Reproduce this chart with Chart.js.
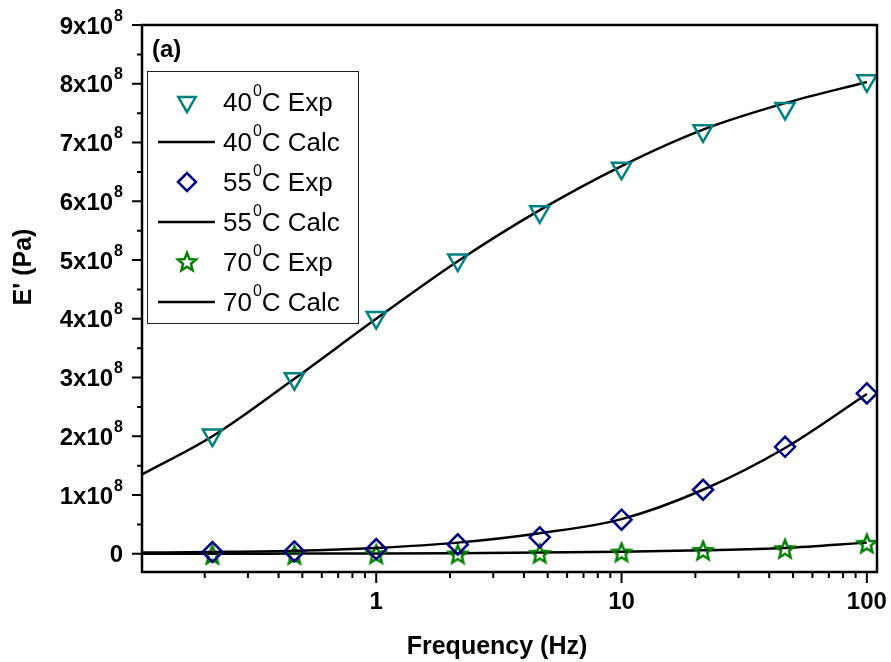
<!DOCTYPE html>
<html lang="en">
<head>
<meta charset="UTF-8">
<title>E' vs Frequency</title>
<script src="https://cdn.jsdelivr.net/npm/chart.js"></script>
<style>
  body { margin: 0; background: #fff; }
</style>
</head>
<body>
<canvas id="myChart" width="891" height="662"></canvas>
<script>
// measured frequencies (Hz)
const freq = [0.215, 0.464, 1, 2.15, 4.64, 10, 21.5, 46.4, 100];
const exp40 = [2.02e8, 2.98e8, 4.02e8, 5.0e8, 5.82e8, 6.56e8, 7.2e8, 7.58e8, 8.05e8];
const exp55 = [0.03e8, 0.04e8, 0.08e8, 0.16e8, 0.28e8, 0.58e8, 1.09e8, 1.82e8, 2.73e8];
const exp70 = [-0.02e8, -0.02e8, -0.01e8, -0.01e8, 0.0, 0.02e8, 0.05e8, 0.08e8, 0.17e8];

// calculated curves
const calcFreq = [0.111, 0.215, 0.464, 1, 2.15, 4.64, 10, 21.5, 46.4, 100];
const calc40 = [1.35e8, 2.0e8, 2.98e8, 4.0e8, 4.98e8, 5.85e8, 6.6e8, 7.22e8, 7.67e8, 8.03e8];
const calc55 = [0.02e8, 0.03e8, 0.05e8, 0.1e8, 0.19e8, 0.35e8, 0.59e8, 1.09e8, 1.8e8, 2.72e8];
const calc70 = [0.0, 0.0, 0.003e8, 0.005e8, 0.01e8, 0.02e8, 0.035e8, 0.06e8, 0.1e8, 0.19e8];

const temps = ['40', '55', '70'];
const yTicks = [0, 1e8, 2e8, 3e8, 4e8, 5e8, 6e8, 7e8, 8e8, 9e8];
const yMinor = [0.5e8, 1.5e8, 2.5e8, 3.5e8, 4.5e8, 5.5e8, 6.5e8, 7.5e8, 8.5e8];
const xTicks = [1, 10, 100];
const xMinor = [0.2, 0.3, 0.4, 0.5, 0.6, 0.7, 0.8, 0.9, 2, 3, 4, 5, 6, 7, 8, 9, 20, 30, 40, 50, 60, 70, 80, 90];

const teal = '#008080', navy = '#000080', green = '#008000';
const FONT = '"Liberation Sans", Arial, sans-serif';

// 5 point star outline, used as a point style
function makeStar(color) {
  const c = document.createElement('canvas');
  c.width = 24; c.height = 24;
  const g = c.getContext('2d');
  g.strokeStyle = color;
  g.lineWidth = 2.5;
  g.lineJoin = 'miter';
  g.beginPath();
  for (let i = 0; i < 10; i++) {
    const r = i % 2 === 0 ? 9.5 : 4.2;
    const a = -Math.PI / 2 + i * Math.PI / 5;
    const px = 12 + r * Math.cos(a), py = 12.5 + r * Math.sin(a);
    if (i === 0) g.moveTo(px, py); else g.lineTo(px, py);
  }
  g.closePath();
  g.stroke();
  return c;
}
const starImg = makeStar(green);

const pts = (xs, ys) => xs.map((x, i) => ({x: x, y: ys[i]}));

const expStyle = (color, style, rot) => ({
  showLine: false,
  pointStyle: style,
  rotation: rot,
  pointRadius: style === 'triangle' ? 11 : 10,
  pointBorderWidth: 2.5,
  pointBorderColor: color,
  pointBackgroundColor: 'rgba(0,0,0,0)',
  borderColor: color
});
const calcStyle = {
  showLine: true,
  pointRadius: 0,
  borderColor: '#000',
  borderWidth: 2.5,
  cubicInterpolationMode: 'monotone'
};

const datasets = [
  Object.assign({label: '40 Exp', data: pts(freq, exp40)}, expStyle(teal, 'triangle', 180)),
  Object.assign({label: '40 Calc', data: pts(calcFreq, calc40)}, calcStyle),
  Object.assign({label: '55 Exp', data: pts(freq, exp55)}, expStyle(navy, 'rectRot', 0)),
  Object.assign({label: '55 Calc', data: pts(calcFreq, calc55)}, calcStyle),
  Object.assign({label: '70 Exp', data: pts(freq, exp70)}, expStyle(green, starImg, 0)),
  Object.assign({label: '70 Calc', data: pts(calcFreq, calc70)}, calcStyle)
];

function supText(ctx, x, y, base, sup, baseFont, supFont, rise) {
  // draws base text then a raised small part, left aligned at x
  ctx.font = baseFont;
  ctx.fillText(base, x, y);
  const w = ctx.measureText(base).width;
  ctx.font = supFont;
  ctx.fillText(sup, x + w + 1, y - rise);
  return w + 1 + ctx.measureText(sup).width;
}

const decorations = {
  id: 'decorations',
  afterDraw(chart) {
    const ctx = chart.ctx, a = chart.chartArea;
    const xs = chart.scales.x, ys = chart.scales.y;
    ctx.save();
    ctx.strokeStyle = '#000';
    ctx.fillStyle = '#000';

    // frame
    ctx.lineWidth = 2.5;
    ctx.strokeRect(a.left, a.top, a.right - a.left, a.bottom - a.top);

    // tick marks
    ctx.lineWidth = 2;
    ctx.beginPath();
    yTicks.forEach(v => { const p = ys.getPixelForValue(v); ctx.moveTo(a.left - 10, p); ctx.lineTo(a.left, p); });
    yMinor.forEach(v => { const p = ys.getPixelForValue(v); ctx.moveTo(a.left - 5, p); ctx.lineTo(a.left, p); });
    xTicks.forEach(v => { const p = xs.getPixelForValue(v); ctx.moveTo(p, a.bottom); ctx.lineTo(p, a.bottom + 11); });
    xMinor.forEach(v => { const p = xs.getPixelForValue(v); ctx.moveTo(p, a.bottom); ctx.lineTo(p, a.bottom + 6); });
    ctx.stroke();

    // y tick labels with superscript exponent
    ctx.textAlign = 'left';
    ctx.textBaseline = 'alphabetic';
    const rightEdge = a.left - 19;
    const tickFont = 'bold 24px ' + FONT, expFont = 'bold 16px ' + FONT;
    yTicks.forEach(v => {
      const p = ys.getPixelForValue(v);
      if (v === 0) {
        ctx.font = tickFont;
        ctx.textAlign = 'right';
        ctx.fillText('0', rightEdge, p + 8.5);
        ctx.textAlign = 'left';
        return;
      }
      const base = (v / 1e8) + 'x10';
      ctx.font = tickFont;
      const bw = ctx.measureText(base).width;
      ctx.font = expFont;
      const sw = ctx.measureText('8').width;
      supText(ctx, rightEdge - bw - sw - 1, p + 8.5, base, '8', tickFont, expFont, 13);
    });

    // axis titles
    ctx.font = 'bold 25px ' + FONT;
    ctx.textAlign = 'center';
    ctx.fillText('Frequency (Hz)', 497, 654);
    ctx.save();
    ctx.translate(31, 267);
    ctx.rotate(-Math.PI / 2);
    ctx.fillText("E' (Pa)", 0, 0);
    ctx.restore();

    // panel tag
    ctx.textAlign = 'left';
    ctx.font = 'bold 24px ' + FONT;
    ctx.fillText('(a)', a.left + 10, 57);

    // legend
    const lx = 147, ly = 71, lw = 211, lh = 252;
    ctx.fillStyle = '#fff';
    ctx.fillRect(lx, ly, lw, lh);
    ctx.lineWidth = 1;
    ctx.strokeStyle = '#222';
    ctx.strokeRect(lx + 0.5, ly + 0.5, lw, lh);
    chart.data.datasets.forEach((ds, i) => {
      const cy = ly + 31 + i * 40;
      const cx = lx + 40;
      if (ds.showLine) {
        ctx.strokeStyle = '#000';
        ctx.lineWidth = 2.5;
        ctx.beginPath();
        ctx.moveTo(lx + 11, cy);
        ctx.lineTo(lx + 68, cy);
        ctx.stroke();
      } else {
        ctx.strokeStyle = ds.pointBorderColor;
        ctx.fillStyle = 'rgba(0,0,0,0)';
        ctx.lineWidth = ds.pointBorderWidth;
        Chart.helpers.drawPoint(ctx, {
          pointStyle: ds.pointStyle, rotation: ds.rotation,
          radius: ds.pointStyle === 'triangle' ? 10 : 9, borderWidth: ds.pointBorderWidth
        }, cx, cy);
      }
      ctx.fillStyle = '#000';
      const t = temps[Math.floor(i / 2)];
      const w = supText(ctx, lx + 76, cy + 9, t, '0', '26px ' + FONT, '16px ' + FONT, 15);
      ctx.font = '26px ' + FONT;
      ctx.fillText('C ' + (ds.showLine ? 'Calc' : 'Exp'), lx + 76 + w, cy + 9);
    });
    ctx.restore();
  }
};

new Chart(document.getElementById('myChart'), {
  type: 'scatter',
  data: { datasets: datasets },
  options: {
    responsive: false,
    animation: false,
    layout: { padding: { left: 0, top: 25, right: 14, bottom: 0 } },
    plugins: { legend: { display: false }, tooltip: { enabled: false } },
    scales: {
      x: {
        type: 'logarithmic',
        min: 0.111,
        max: 110,
        grid: { display: false, drawTicks: false },
        border: { display: false },
        afterBuildTicks: s => { s.ticks = xTicks.map(v => ({value: v})); },
        afterFit: s => { s.height = 90; s.paddingLeft = 0; s.paddingRight = 0; },
        ticks: {
          color: '#000',
          padding: 16,
          maxRotation: 0,
          autoSkip: false,
          font: { family: FONT, size: 24, weight: 'bold' },
          callback: v => String(v)
        }
      },
      y: {
        min: -0.31e8,
        max: 9e8,
        grid: { display: false, drawTicks: false },
        border: { display: false },
        afterBuildTicks: s => { s.ticks = yTicks.map(v => ({value: v})); },
        afterFit: s => { s.width = 142; s.paddingTop = 0; s.paddingBottom = 0; },
        ticks: { display: false }
      }
    }
  },
  plugins: [decorations]
});
</script>
</body>
</html>
